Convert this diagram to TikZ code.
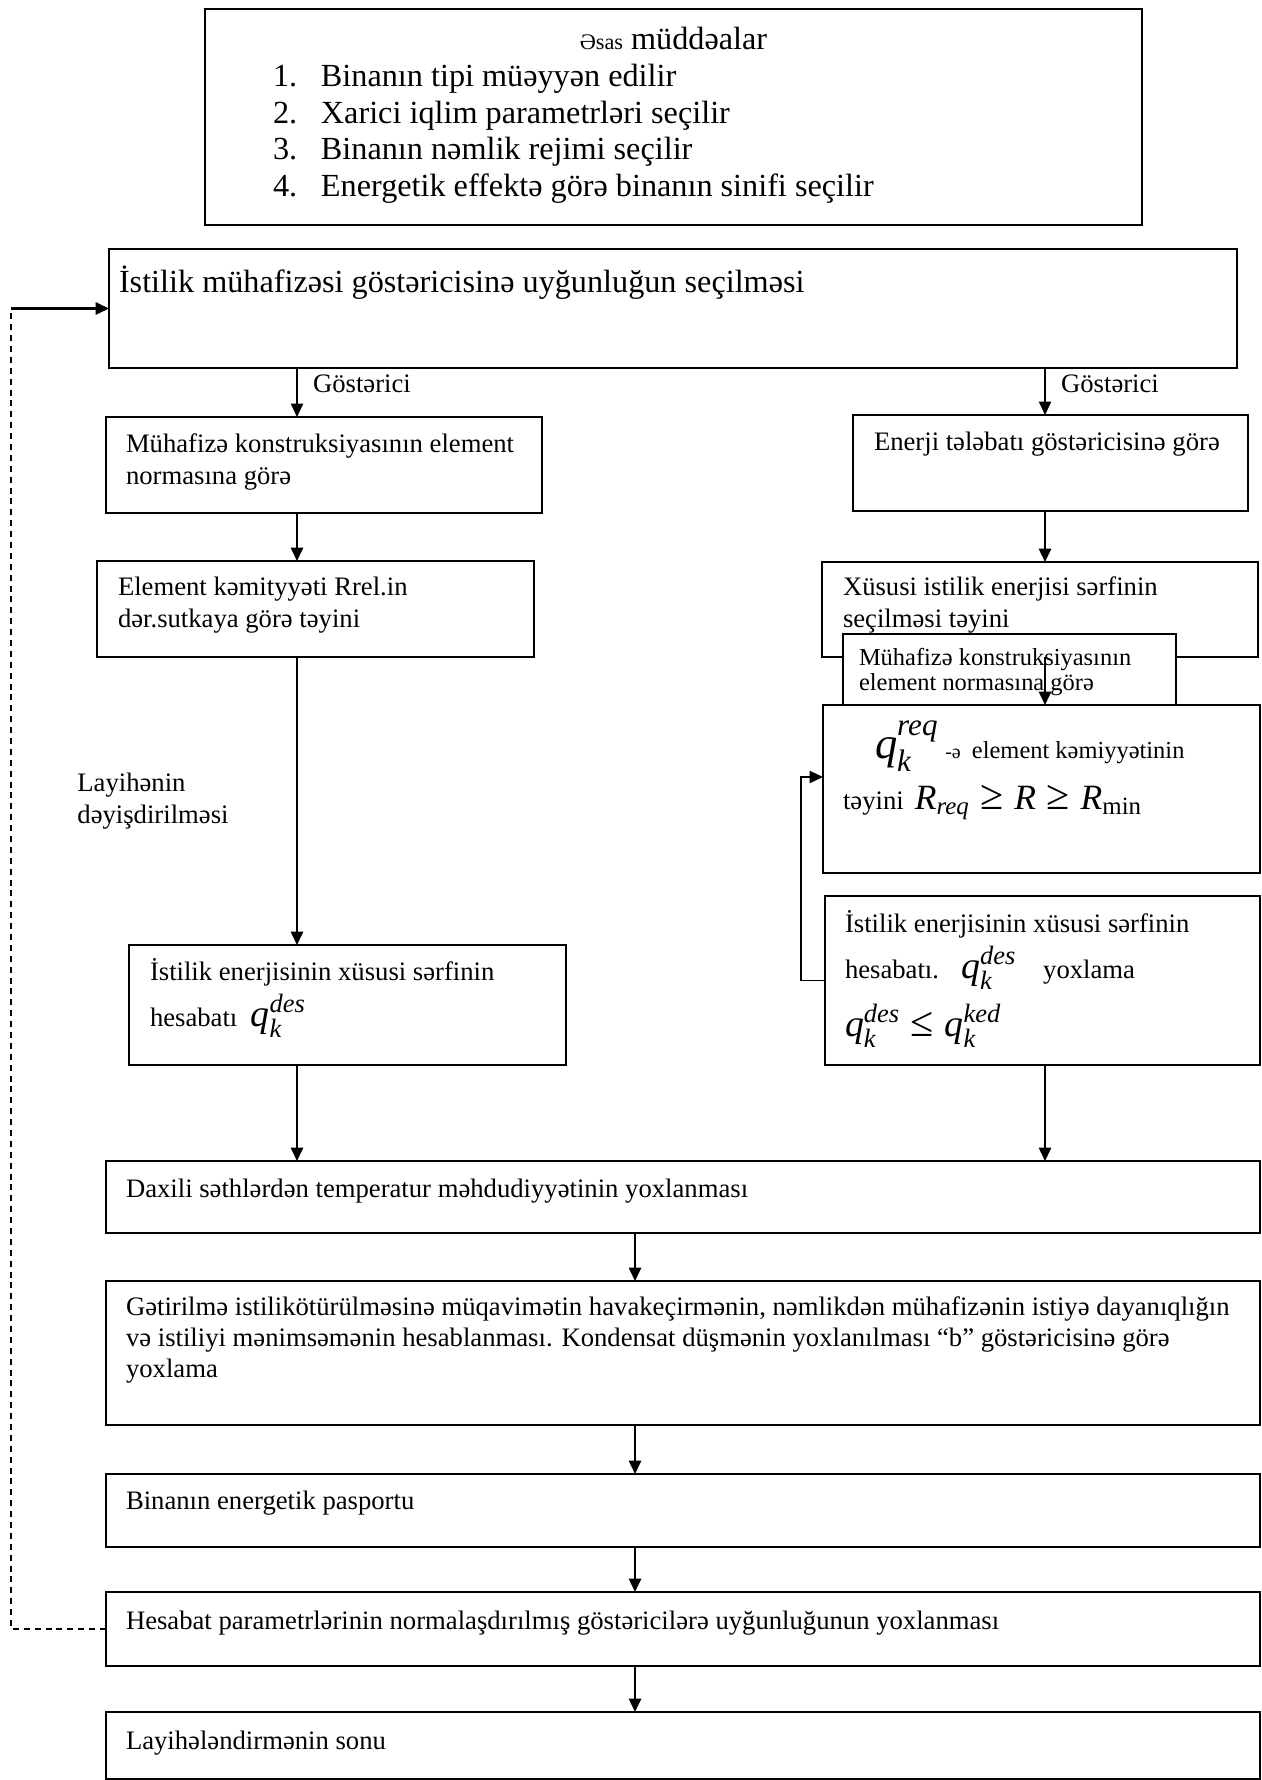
\documentclass[tikz,border=0pt]{standalone}
\usepackage{fontspec}
\usepackage{amsmath}
\setmainfont{Liberation Serif}
\usetikzlibrary{
  arrows.meta,   % filled triangle tips
  positioning    % relative placement
}

\newdimen\pu
\pu=0.45pt % one pixel of the scanned page

% text of a box: width, height, left gap, first baseline (px), text
\newcommand{\boxtxt}[5]{%
  \parbox[c][#2\pu][t]{#1\pu}{\raggedright
    \leftskip=#3\pu \rightskip=-40pt plus 1fil\relax
    \rule{0pt}{#4\pu}#5}}
\newcommand{\itm}[1]{\makebox[48\pu][l]{#1}}
\newcommand{\qk}[2][17]{{\fontsize{#1}{#1}\selectfont
  $\textit{q}_{\textit{k}}^{\textit{#2}}$}}
\newcommand{\geqt}{\mathrel{\textup{\fontsize{19}{19}\selectfont ≥}}}
\newcommand{\leqt}{\mathrel{\textup{\fontsize{19}{19}\selectfont ≤}}}

\tikzset{
  box/.style = {draw, rectangle, fill=white, anchor=north west,
    inner sep=0pt, outer sep=0pt, line width=0.75pt},
  note/.style = {inner sep=0pt, align=left},
  lbl/.style = {anchor=west, pos=.33, xshift=7pt, inner sep=0pt},
  link/.style = {->, line width=0.9pt},
  thinlink/.style = {->, line width=0.5pt},
  backlink/.style = {line width=0.6pt, dash pattern=on 2.7pt off 2.2pt},
  >={Triangle[length=6pt,width=5.5pt]}
}

\begin{document}
\begin{tikzpicture}[x=1\pu, y=-1\pu, font=\fontsize{12}{14.5}\selectfont]
\useasboundingbox (0,0) rectangle (1262,1780);

% columns of the arrows
\coordinate (lcol) at (297,0);
\coordinate (rcol) at (1045,0);
\coordinate (mcol) at (635,0);
\coordinate (fbl) at (11,0);
\coordinate (fbr) at (801,777);

\node[box] (basic) at (205,9) {\parbox[c][216\pu][t]{937\pu}{%
  \fontsize{14.5}{16.5}\selectfont
  \centering\rule{0pt}{41\pu}{\fontsize{10}{12}\selectfont Əsas} müddəalar\par
  \raggedright\leftskip=68\pu
  \itm{1.}Binanın tipi müəyyən edilir\\
  \itm{2.}Xarici iqlim parametrləri seçilir\\
  \itm{3.}Binanın nəmlik rejimi seçilir\\
  \itm{4.}Energetik effektə görə binanın sinifi seçilir}};

\node[box] (select) at (109,249) {\boxtxt{1128}{119}{10}{43}{%
  \fontsize{14.5}{17}\selectfont İstilik mühafizəsi göstəricisinə uyğunluğun seçilməsi}};

% left branch
\node[box] (mhf) at (106,417) {\boxtxt{436}{96}{20}{35}{%
  Mühafizə konstruksiyasının element\\ normasına görə}};
\node[box] (elm) at (97,561) {\boxtxt{437}{96}{21}{34}{%
  Element kəmityyəti Rrel.in\\ dər.sutkaya görə təyini}};
\node[note, anchor=west] (chg) at (77,801) {Layihənin\\ dəyişdirilməsi};
\node[box] (ilf) at (129,945) {\boxtxt{437}{120}{21}{35}{%
  \fontsize{12}{21}\selectfont İstilik enerjisinin xüsusi sərfinin\\
  hesabatı\hspace{6pt}\qk{des}}};

% right branch
\node[box] (enr) at (853,415) {\boxtxt{395}{96}{21}{35}{%
  Enerji tələbatı göstəricisinə görə}};
\node[box] (xus) at (822,562) {\boxtxt{436}{95}{21}{33}{%
  Xüsusi istilik enerjisi sərfinin\\ seçilməsi təyini}};
\node[box] (sml) at (843,634) {\boxtxt{333}{71}{16}{31}{%
  \fontsize{11}{11.3}\selectfont Mühafizə konstruksiyasının\\ element normasına görə}};
\node[box] (qbx) at (823,705) {\boxtxt{437}{168}{20}{53}{%
  \fontsize{12}{23}\selectfont
  \hspace*{32\pu}\qk[20]{req}\hspace{3pt}{\fontsize{9}{10}\selectfont -ə}\hspace{5pt}{\fontsize{11}{11}\selectfont element kəmiyyətinin}\\
  təyini\hspace{5pt}{\fontsize{16}{16}\selectfont
    $\textit{R}_{\textit{req}}\geqt\textit{R}\geqt\textit{R}_{\textup{min}}$}}};
\node[box] (irr) at (825,896) {\boxtxt{435}{169}{20}{36}{%
  \fontsize{12}{21}\selectfont İstilik enerjisinin xüsusi sərfinin\\
  hesabatı.\hspace{10pt}\qk{des}\hspace{12pt}yoxlama\\[5pt]
  {\fontsize{17}{17}\selectfont
    $\textit{q}_{\textit{k}}^{\textit{des}}\leqt\textit{q}_{\textit{k}}^{\textit{ked}}$}}};

% common trunk
\node[box] (dax) at (106,1161) {\boxtxt{1154}{72}{20}{36}{%
  Daxili səthlərdən temperatur məhdudiyyətinin yoxlanması}};
\node[box] (get) at (106,1281) {\boxtxt{1154}{144}{20}{34}{%
  \fontsize{12}{14}\selectfont
  Gətirilmə istilikötürülməsinə müqavimətin havakeçirmənin, nəmlikdən mühafizənin istiyə dayanıqlığın\\
  və istiliyi mənimsəmənin hesablanması. Kondensat düşmənin yoxlanılması “b” göstəricisinə görə\\
  yoxlama}};
\node[box] (bin) at (106,1474) {\boxtxt{1154}{73}{20}{35}{%
  Binanın energetik pasportu}};
\node[box] (hes) at (106,1592) {\boxtxt{1154}{74}{20}{37}{%
  Hesabat parametrlərinin normalaşdırılmış göstəricilərə uyğunluğunun yoxlanması}};
\node[box] (son) at (106,1712) {\boxtxt{1154}{67}{20}{37}{%
  Layihələndirmənin sonu}};

% connectors
\draw[thinlink] (select.south -| lcol) -- node[lbl] {Göstərici} (mhf.north -| lcol);
\draw[thinlink] (select.south -| rcol) -- node[lbl] {Göstərici} (enr.north -| rcol);
\draw[link] (mhf.south -| lcol) -- (elm.north -| lcol);
\draw[link] (elm.south -| lcol) -- (ilf.north -| lcol);
\draw[link] (ilf.south -| lcol) -- (dax.north -| lcol);
\draw[link] (enr.south -| rcol) -- (xus.north -| rcol);
\draw[link] (xus.south -| rcol) -- (qbx.north -| rcol);
\draw[link] (irr.south -| rcol) -- (dax.north -| rcol);
\draw[->, line width=0.6pt] (irr.west) -| (fbr) -- (fbr -| qbx.west);
\draw[link] (dax.south -| mcol) -- (get.north -| mcol);
\draw[link] (get.south -| mcol) -- (bin.north -| mcol);
\draw[link] (bin.south -| mcol) -- (hes.north -| mcol);
\draw[link] (hes.south -| mcol) -- (son.north -| mcol);
% back to the start
\draw[backlink] (hes.west) -- (hes.west -| fbl) -- (select.west -| fbl);
\draw[->, line width=1pt] (select.west -| fbl) -- (select.west);
\end{tikzpicture}
\end{document}
